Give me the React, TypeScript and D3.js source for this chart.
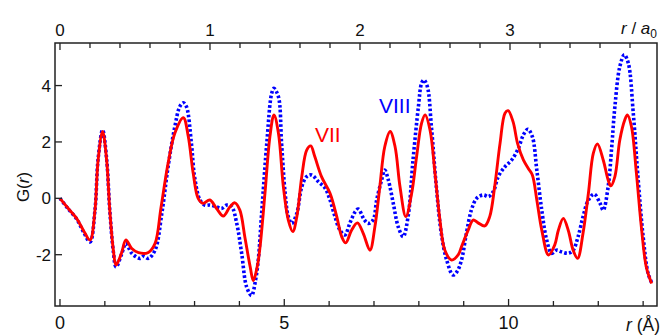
import React from "react";
import * as d3 from "d3";

// ---- Data ----
const rVII = [0, 0.185, 0.37, 0.52, 0.67, 0.78, 0.85, 0.95, 1.04, 1.11, 1.19, 1.25, 1.37, 1.47, 1.6, 1.75, 1.97, 2.12, 2.25, 2.41, 2.56, 2.75, 2.86, 2.97, 3.08, 3.19, 3.34, 3.49, 3.64, 3.79, 3.9, 4.01, 4.12, 4.24, 4.31, 4.4, 4.46, 4.57, 4.68, 4.77, 4.87, 4.98, 5.09, 5.19, 5.28, 5.39, 5.5, 5.59, 5.68, 5.83, 6.02, 6.17, 6.28, 6.37, 6.5, 6.63, 6.76, 6.91, 7.02, 7.13, 7.24, 7.36, 7.47, 7.58, 7.71, 7.84, 7.95, 8.06, 8.14, 8.25, 8.36, 8.47, 8.58, 8.73, 8.88, 8.95, 9.1, 9.21, 9.32, 9.47, 9.58, 9.69, 9.81, 9.92, 9.99, 10.1, 10.2, 10.33, 10.44, 10.53, 10.63, 10.74, 10.89, 11.03, 11.11, 11.22, 11.33, 11.44, 11.54, 11.66, 11.78, 11.89, 11.98, 12.11, 12.22, 12.28, 12.37, 12.48, 12.59, 12.65, 12.74, 12.85, 12.96, 13.07, 13.19];
const gVII = [0, -0.36, -0.71, -1.13, -1.48, -0.42, 1.36, 2.37, 1.36, -0.42, -1.84, -2.37, -1.95, -1.48, -1.78, -1.93, -1.92, -1.6, -0.35, 1.24, 2.31, 2.86, 2.19, 0.89, 0.0, -0.18, -0.06, -0.36, -0.63, -0.3, -0.16, -0.42, -1.36, -2.43, -2.92, -2.4, -1.72, 0.18, 2.19, 2.96, 2.31, 0.41, -0.77, -1.18, -0.65, 0.77, 1.71, 1.86, 1.48, 0.77, 0.18, -0.65, -1.36, -1.58, -1.13, -0.87, -1.24, -1.84, -1.01, 0.41, 1.83, 2.37, 1.83, 0.41, -0.65, 0.18, 1.48, 2.66, 2.96, 2.42, 0.89, -0.77, -1.84, -2.19, -2.0, -1.72, -1.13, -0.77, -0.87, -0.98, -0.65, 0.41, 1.95, 3.02, 3.11, 2.72, 1.95, 1.36, 1.06, 0.83, -0.06, -1.13, -2.01, -1.65, -1.13, -0.71, -1.13, -1.84, -2.13, -1.24, 0.18, 1.6, 1.93, 1.36, 0.65, 0.44, 0.77, 2.07, 2.78, 2.96, 2.54, 0.89, -1.01, -2.43, -3.02];

const rVIII = [0, 0.185, 0.37, 0.52, 0.67, 0.78, 0.85, 0.95, 1.04, 1.11, 1.19, 1.25, 1.37, 1.47, 1.6, 1.78, 1.87, 1.97, 2.12, 2.27, 2.41, 2.56, 2.67, 2.75, 2.82, 2.93, 3.0, 3.12, 3.23, 3.34, 3.49, 3.6, 3.72, 3.83, 3.94, 4.05, 4.16, 4.27, 4.36, 4.42, 4.5, 4.61, 4.72, 4.77, 4.87, 4.94, 5.02, 5.09, 5.17, 5.28, 5.39, 5.5, 5.61, 5.76, 5.91, 6.02, 6.13, 6.24, 6.35, 6.46, 6.58, 6.65, 6.78, 6.87, 6.98, 7.06, 7.17, 7.24, 7.32, 7.43, 7.54, 7.65, 7.76, 7.87, 7.99, 8.06, 8.11, 8.19, 8.28, 8.39, 8.5, 8.62, 8.76, 8.85, 8.95, 9.06, 9.17, 9.29, 9.44, 9.55, 9.66, 9.77, 9.92, 10.07, 10.22, 10.33, 10.43, 10.53, 10.63, 10.74, 10.85, 10.96, 11.07, 11.18, 11.33, 11.44, 11.55, 11.66, 11.78, 11.91, 12.04, 12.11, 12.22, 12.3, 12.37, 12.48, 12.58, 12.67, 12.78, 12.89, 13.0, 13.11, 13.2];
const gVIII = [0, -0.38, -0.73, -1.18, -1.55, -0.42, 1.4, 2.43, 1.4, -0.42, -1.9, -2.44, -2.0, -1.6, -1.95, -2.13, -2.05, -2.13, -1.84, -0.54, 1.12, 2.54, 3.25, 3.39, 3.25, 1.95, 0.77, -0.06, -0.24, -0.24, -0.3, -0.36, -0.24, -0.3, -0.89, -1.95, -3.14, -3.45, -2.9, -2.19, -0.42, 1.95, 3.73, 3.9, 3.6, 1.95, 0.18, -0.65, -0.89, -0.53, 0.41, 0.77, 0.83, 0.59, 0.36, -0.06, -0.65, -1.13, -1.3, -0.89, -0.48, -0.38, -0.75, -0.89, -0.77, -0.06, 0.65, 1.0, 0.65, -0.18, -1.01, -1.36, -0.65, 1.36, 3.25, 4.08, 4.2, 3.96, 2.54, 0.41, -1.24, -2.19, -2.72, -2.6, -2.2, -1.24, -0.42, 0.0, 0.12, 0.06, 0.24, 0.77, 1.12, 1.36, 1.78, 2.25, 2.45, 2.19, 1.0, -0.42, -1.48, -1.95, -1.84, -1.9, -1.95, -1.84, -1.36, -0.65, -0.06, 0.15, -0.18, -0.42, 0.41, 1.83, 3.25, 4.67, 5.09, 4.79, 3.02, 0.65, -1.36, -2.66, -3.02];

const bottomTicks = [0, 5, 10];
const topTicks = [0, 1, 2, 3];
const yTicks = [-2, 0, 2, 4];
const A0 = 3.344; // Å per a0 unit

const W = 662, H = 336;
const L = 55, R = 657, T = 43, B = 306;
const FONT = "'Liberation Sans', Arial, sans-serif";
const AXIS = "#222";

export default function App() {
  const xScale = d3.scaleLinear().domain([-0.111, 13.309]).range([L, R]);
  const xTop = d3.scaleLinear().domain([-0.111 / A0, 13.309 / A0]).range([L, R]);
  const yScale = d3.scaleLinear().domain([-3.82, 5.51]).range([B, T]);

  const line = d3
    .line<[number, number]>()
    .x((d) => xScale(d[0]))
    .y((d) => yScale(d[1]))
    .curve(d3.curveCatmullRom.alpha(0.5));

  const dVII = line(rVII.map((r, i) => [r, gVII[i]]))!;
  const dVIII = line(rVIII.map((r, i) => [r, gVIII[i]]))!;

  const bottomMinor = d3.range(0, 14, 1);
  const topMinor = d3.range(0, 3.81, 0.2);

  return (
    <svg width={W} height={H} style={{ position: "absolute", left: 0, top: 0, background: "#fff" }} fontFamily={FONT}>
      <defs>
        <clipPath id="plot">
          <rect x={L} y={T} width={R - L} height={B - T} />
        </clipPath>
      </defs>
      <g clipPath="url(#plot)">
        <path d={dVIII} fill="none" stroke="#0000ff" strokeWidth={3.6} strokeDasharray="2.6 2.2" />
        <path d={dVII} fill="none" stroke="#ff0000" strokeWidth={2.9} strokeLinejoin="round" />
      </g>
      {/* frame */}
      <rect x={L} y={T} width={R - L} height={B - T} fill="none" stroke={AXIS} strokeWidth={1.5} />
      {/* bottom ticks */}
      {bottomMinor.map((v) => (
        <line key={"bm" + v} x1={xScale(v)} x2={xScale(v)} y1={B} y2={B - (bottomTicks.includes(v) ? 7 : 5)} stroke={AXIS} strokeWidth={1.3} />
      ))}
      {bottomTicks.map((v) => (
        <text key={"bt" + v} x={xScale(v)} y={328.5} fontSize={18} textAnchor="middle" fill="#111">{v}</text>
      ))}
      {/* top ticks */}
      {topMinor.map((v, i) => (
        <line key={"tm" + i} x1={xTop(v)} x2={xTop(v)} y1={T} y2={T + (i % 5 === 0 ? 7 : 5)} stroke={AXIS} strokeWidth={1.3} />
      ))}
      {topTicks.map((v) => (
        <text key={"tt" + v} x={xTop(v)} y={36} fontSize={17} textAnchor="middle" fill="#111">{v}</text>
      ))}
      {/* y ticks */}
      {yTicks.map((v) => (
        <g key={"y" + v}>
          <line x1={L} x2={L + 7} y1={yScale(v)} y2={yScale(v)} stroke={AXIS} strokeWidth={1.3} />
          <text x={51} y={yScale(v) + 6} fontSize={17} textAnchor="end" fill="#111">{v}</text>
        </g>
      ))}
      {/* axis titles */}
      <text x={657} y={34} fontSize={17} textAnchor="end" fill="#111">
        <tspan fontStyle="italic">r</tspan>
        <tspan> / </tspan>
        <tspan fontStyle="italic">a</tspan>
        <tspan fontSize={12} dy={4}>0</tspan>
      </text>
      <text x={660} y={331} fontSize={17.5} textAnchor="end" fill="#111">
        <tspan fontStyle="italic">r</tspan>
        <tspan> (Å)</tspan>
      </text>
      <text transform={`translate(29, 187) rotate(-90)`} fontSize={17} textAnchor="middle" fill="#111">
        <tspan>G(</tspan>
        <tspan fontStyle="italic">r</tspan>
        <tspan>)</tspan>
      </text>
      {/* series labels */}
      <text x={315} y={142} fontSize={21} fill="#ff0000">VII</text>
      <text x={379} y={113} fontSize={21} fill="#0000ff">VIII</text>
    </svg>
  );
}
